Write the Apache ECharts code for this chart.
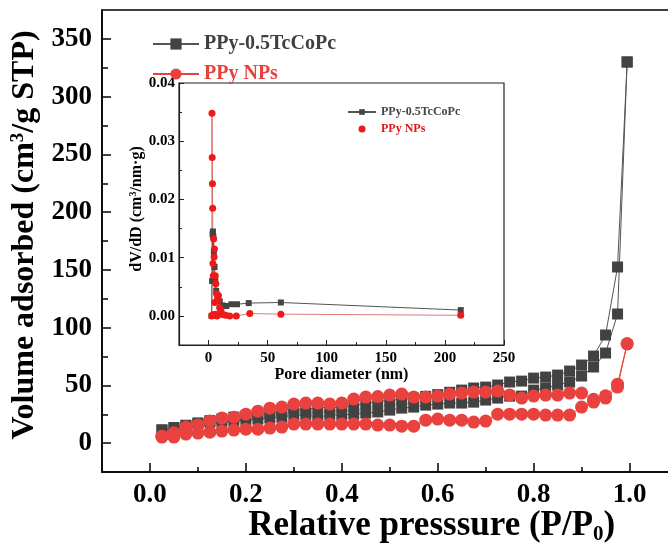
<!DOCTYPE html>
<html><head><meta charset="utf-8">
<script src="https://cdn.jsdelivr.net/npm/echarts@6/dist/echarts.min.js"></script>
<style>html,body{margin:0;padding:0;background:#fff}#c{width:668px;height:545px}</style>
</head><body><div id="c"></div>
<script>
// ---------- main isotherm data ----------
const relPressure = [0.025,0.05,0.075,0.1,0.125,0.15,0.175,0.2,0.225,0.25,0.275,0.3,0.325,0.35,0.375,0.4,0.425,0.45,0.475,0.5,0.525,0.55,0.575,0.6,0.625,0.65,0.675,0.7,0.725,0.75,0.775,0.8,0.825,0.85,0.875,0.9,0.925,0.95,0.975,0.995];
const tcAds = [11.3,13,14.7,16.5,18.2,18.2,19.1,19.9,20.8,21.7,22.5,24.3,24.3,22.5,24.3,24.3,25.1,26,27,28.6,30.3,31.2,32.9,33.8,34.7,34.7,35.5,37.3,39,40.7,40.7,45.9,47.7,50.3,52.9,58.1,65.9,78,111.8,330];
const tcDes = [11.5,13.5,15.5,17.5,19.5,21,22.5,23.5,25,26.5,27.7,30.3,28.6,31.2,30.3,31.2,32,34.7,36,37,38,39,40.5,42,44,45.9,47.7,48.5,50.3,52.9,53.7,56.3,57.2,58.9,62.4,67.6,75.4,93.6,152.5,330];
const npAds = [5.2,5.2,7.8,8.7,9.5,10.4,11.3,12.1,12.1,13,13.9,16.5,16.5,16.5,16.5,16.5,16.5,16.5,15.6,15.6,14.7,14.7,19.9,20.8,19.9,19.9,18.2,19.1,25.1,25.1,25.1,25.1,24.3,24.3,24.3,31.2,35.5,39,48.5,86];
const npDes = [6,9,13.9,15.6,19.1,21.7,22.5,25.1,27.7,30.3,31.2,33.8,34.7,34.7,33.8,34.7,38.1,39.9,40.3,41.6,42.5,39.9,39.9,40.7,42.5,43.3,44.2,44.2,45.1,41.6,39,40.7,41.6,41.6,43.3,43.3,38,41,51,86];
// ---------- inset pore size distribution ----------
const tcPoreD = [213.4,61.2,34.0,24.1,19.3,15.0,12.0,9.5,7.9,6.5,5.7,5.1,4.5,4.1,3.7,3.4,3.0,2.6];
const tcPoreV = [0.0010,0.0023,0.0022,0.0020,0.0020,0.0017,0.0018,0.0025,0.0032,0.0043,0.0061,0.0084,0.0110,0.0136,0.0145,0.0140,0.0060,0.0000];
const npPoreD = [213.4,61.2,34.9,23.5,17.9,14.5,12.2,10.6,9.4,8.4,7.5,6.8,6.2,5.7,5.3,5.0,4.7,4.3,4.0,3.7,3.5,3.3,3.1,2.9,2.7,3.6,4.8,6.0,7.2];
const npPoreV = [0.0001,0.0003,0.0004,0.0000,0.0000,0.0001,0.0002,0.0008,0.0014,0.0035,0.0026,0.0038,0.0055,0.0069,0.0023,0.0115,0.0101,0.0132,0.0069,0.0090,0.0185,0.0227,0.0272,0.0348,0.0000,0.0002,0.0001,0.0003,0.0000];
// ---------- ticks ----------
const mainXMajor = [0,0.2,0.4,0.6,0.8,1.0];
const mainXMinor = [0.1,0.3,0.5,0.7,0.9];
const mainYMajor = [0,50,100,150,200,250,300,350];
const mainYMinor = [25,75,125,175,225,275,325];
const insetXMajor = [0,50,100,150,200,250];
const insetXMinor = [25,75,125,175,225];
const insetYMajor = [0,0.01,0.02,0.03,0.04];
const insetYMinor = [0.005,0.015,0.025,0.035];

const FONT = '"Liberation Serif","Times New Roman",serif';
const GRAY = '#424242', RED = '#e9413d', IRED = '#ee1a1a';

const zip = (xs, ys) => xs.map((x, i) => [x, ys[i]]);
const loop = (xs, a, d) => zip(xs, a).concat(zip(xs, d).reverse());

function labelAxis(extra) {
  return Object.assign({
    type: 'value', splitLine: {show: false}, axisTick: {show: false},
    axisLine: {show: true, onZero: false, lineStyle: {color: '#000', width: 1.5}},
  }, extra);
}
function tickAxis(gridIndex, position, min, max, values, length, color, width) {
  return {
    type: 'value', gridIndex, position, min, max, splitLine: {show: false}, z: 10,
    axisLine: {show: false, onZero: false}, axisLabel: {show: false},
    axisTick: {show: true, inside: true, length, customValues: values, lineStyle: {color, width}}
  };
}

const chart = echarts.init(document.getElementById('c'), null, {renderer: 'canvas'});
chart.setOption({
  animation: false,
  backgroundColor: '#fff',
  grid: [
    {left: 102, top: 10, width: 575.5, height: 462, show: true, borderColor: '#000', borderWidth: 1.5, backgroundColor: 'transparent', outerBoundsMode: 'none', containLabel: false},
    {left: 179, top: 83, width: 325, height: 262, show: true, borderColor: '#222', borderWidth: 1.2, backgroundColor: '#fff', outerBoundsMode: 'none', containLabel: false}
  ],
  legend: [{
    data: [{name: 'PPy-0.5TcCoPc', textStyle: {color: '#404040'}}, {name: 'PPy NPs', textStyle: {color: RED}}],
    orient: 'vertical', left: 147, top: 29, itemWidth: 46, itemHeight: 14, itemGap: 10,
    selectedMode: false,
    textStyle: {fontFamily: FONT, fontSize: 20, fontWeight: 'bold'}
  }, {
    data: [{name: 'inset PPy-0.5TcCoPc', textStyle: {color: '#444'}}, {name: 'inset PPy NPs', icon: 'circle', textStyle: {color: '#e01818'}}],
    formatter: n => n.replace('inset ', ''),
    orient: 'vertical', left: 342, top: 101, itemWidth: 28, itemHeight: 7, itemGap: 5,
    selectedMode: false,
    textStyle: {fontFamily: FONT, fontSize: 12, fontWeight: 'bold'}
  }],
  xAxis: [
    labelAxis({gridIndex: 0, position: 'bottom', min: -0.1, max: 1.1,
      axisLabel: {customValues: mainXMajor, formatter: v => v.toFixed(1), margin: 10, color: '#000', fontFamily: FONT, fontSize: 27, fontWeight: 'bold'},
      name: 'Relative presssure (P/P{sub|0})', nameLocation: 'middle', nameGap: 34, nameMoveOverlap: false,
      nameTextStyle: {color: '#000', fontFamily: FONT, fontSize: 35, fontWeight: 'bold', padding: [0, 0, 0, 84],
        rich: {sub: {fontFamily: FONT, fontSize: 21, fontWeight: 'bold', color: '#000', verticalAlign: 'top', padding: [18, 0, 0, 0]}}}
    }),
    tickAxis(0, 'bottom', -0.1, 1.1, mainXMajor, 9, '#000', 1.5),
    tickAxis(0, 'bottom', -0.1, 1.1, mainXMinor, 5, '#000', 1.5),
    labelAxis({gridIndex: 1, position: 'bottom', min: -25, max: 250,
      axisLine: {show: true, onZero: false, lineStyle: {color: '#222', width: 1.2}},
      axisLabel: {customValues: insetXMajor, margin: 6, color: '#000', fontFamily: FONT, fontSize: 15, fontWeight: 'bold'},
      name: 'Pore diameter (nm)', nameLocation: 'middle', nameGap: 22, nameMoveOverlap: false,
      nameTextStyle: {color: '#000', fontFamily: FONT, fontSize: 16, fontWeight: 'bold'}
    }),
    tickAxis(1, 'bottom', -25, 250, insetXMajor, 5, '#222', 1),
    tickAxis(1, 'bottom', -25, 250, insetXMinor, 3, '#222', 1)
  ],
  yAxis: [
    labelAxis({gridIndex: 0, position: 'left', min: -25, max: 375,
      axisLabel: {customValues: mainYMajor, margin: 10, color: '#000', fontFamily: FONT, fontSize: 27, fontWeight: 'bold'},
      name: 'Volume adsorbed (cm{sup|3}/g STP)', nameLocation: 'middle', nameRotate: 90, nameGap: 57,
      nameTextStyle: {color: '#000', fontFamily: FONT, fontSize: 32, fontWeight: 'bold', padding: [0, 0, 0, 12],
        rich: {sup: {fontFamily: FONT, fontSize: 19, fontWeight: 'bold', color: '#000', verticalAlign: 'top'}}}
    }),
    tickAxis(0, 'left', -25, 375, mainYMajor, 9, '#000', 1.5),
    tickAxis(0, 'left', -25, 375, mainYMinor, 6, '#000', 1.5),
    labelAxis({gridIndex: 1, position: 'left', min: -0.005, max: 0.04,
      axisLine: {show: true, onZero: false, lineStyle: {color: '#222', width: 1.2}},
      axisLabel: {customValues: insetYMajor, formatter: v => v.toFixed(2), margin: 4, color: '#000', fontFamily: FONT, fontSize: 15, fontWeight: 'bold'},
      name: 'dV/dD (cm{sup|3}/nm·g)', nameLocation: 'middle', nameRotate: 90, nameGap: 34,
      nameTextStyle: {color: '#000', fontFamily: FONT, fontSize: 16, fontWeight: 'bold', padding: [0, 0, 0, 10],
        rich: {sup: {fontFamily: FONT, fontSize: 10, fontWeight: 'bold', color: '#000', verticalAlign: 'top'}}}
    }),
    tickAxis(1, 'left', -0.005, 0.04, insetYMajor, 5, '#222', 1),
    tickAxis(1, 'left', -0.005, 0.04, insetYMinor, 3, '#222', 1)
  ],
  series: [
    {name: 'PPy-0.5TcCoPc', type: 'line', xAxisIndex: 0, yAxisIndex: 0, data: loop(relPressure, tcAds, tcDes),
      symbol: 'rect', symbolSize: 11, itemStyle: {color: GRAY}, lineStyle: {color: '#555', width: 1}, silent: true},
    {name: 'PPy NPs', type: 'line', xAxisIndex: 0, yAxisIndex: 0, data: loop(relPressure, npAds, npDes),
      symbol: 'circle', symbolSize: 13, itemStyle: {color: RED}, lineStyle: {color: RED, width: 1}, silent: true},
    {name: 'inset PPy-0.5TcCoPc', type: 'line', xAxisIndex: 3, yAxisIndex: 3, data: zip(tcPoreD, tcPoreV),
      symbol: 'rect', symbolSize: 6, itemStyle: {color: '#454545'}, lineStyle: {color: '#555', width: 1}, silent: true},
    {name: 'inset PPy NPs', type: 'line', xAxisIndex: 3, yAxisIndex: 3, data: zip(npPoreD, npPoreV),
      symbol: 'circle', symbolSize: 7, itemStyle: {color: IRED}, lineStyle: {color: '#c83030', width: 0.8, opacity: 0.8}, silent: true}
  ]
});
</script>
</body></html>
